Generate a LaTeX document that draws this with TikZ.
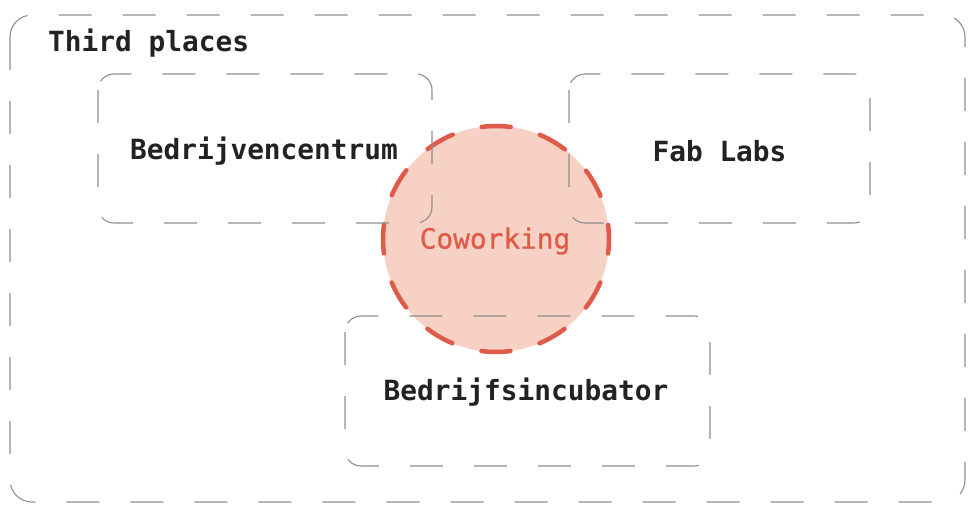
\documentclass[tikz,border=0pt]{standalone}
\usepackage{fontspec}
\setmonofont{DejaVu Sans Mono}
\newfontfamily\hubfont{DejaVu Sans Mono}[FakeBold=0.8]
\definecolor{framegrey}{HTML}{8E8E8E}
\definecolor{inktext}{HTML}{222222}
\definecolor{coralline}{HTML}{DF5A48}
\definecolor{coralfill}{HTML}{F6D1C4}
\tikzset{
  zonebox/.style={draw=framegrey, line width=1.1pt, rounded corners=16pt,
    dash pattern=on 33pt off 31pt},
  zonelabel/.style={font=\ttfamily\bfseries\fontsize{27.8}{30}\selectfont, text=inktext},
  hubcircle/.style={draw=coralline, fill=coralfill, line width=4.5pt,
    line cap=round, dash pattern=on 29pt off 30.2pt, dash phase=14.5pt},
  hublabel/.style={font=\hubfont\fontsize{27.8}{30}\selectfont, text=coralline}
}
\begin{document}
\begin{tikzpicture}[x=1pt,y=-1pt]
  \useasboundingbox (0,0) rectangle (976,505);

  % overlapping circle underneath the boxes
  \draw[hubcircle] (496,239) circle[radius=113];
  \node[hublabel] (cow) at (495,241) {Coworking};

  % outer frame
  \draw[zonebox, rounded corners=22pt] (10,15) rectangle (965,502);
  \node[zonelabel, anchor=west, inner sep=0pt] (third) at (48,43) {Third places};

  % inner areas
  \draw[zonebox] (98,74) rectangle (432,223);
  \node[zonelabel] (bc) at (264,151) {Bedrijvencentrum};

  \draw[zonebox] (569,74) rectangle (870,223);
  \node[zonelabel] (fab) at (719.5,151) {Fab Labs};

  \draw[zonebox] (345,316) rectangle (710,466);
  \node[zonelabel] (inc) at (526,392) {Bedrijfsincubator};
\end{tikzpicture}
\end{document}
